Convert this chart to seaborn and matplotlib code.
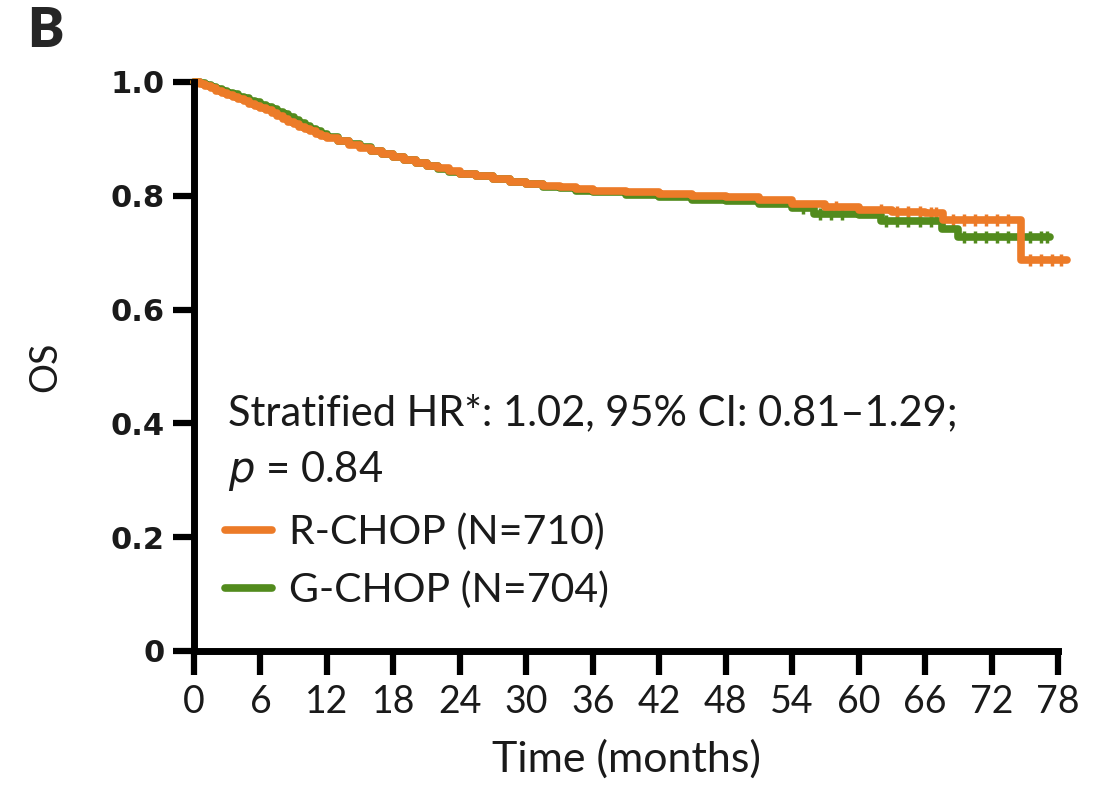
import numpy as np
import pandas as pd
import seaborn as sns
import matplotlib.pyplot as plt

# KM estimates (months, survival)
r_time = [0, 0.5, 1, 1.5, 2, 2.5, 3, 3.5, 4, 4.5, 5, 5.5, 6, 6.5, 7, 7.5, 8, 8.5, 9, 9.5,
          10, 10.5, 11, 11.5, 12, 13, 14, 15, 16, 17, 18, 19, 20, 21, 22, 23, 24, 25.5, 27,
          28.5, 30, 31.5, 33, 34.5, 36, 39, 42, 45, 48, 51, 54, 57, 60, 63, 66, 67.6, 74.7, 78.8]
r_surv = [1.0, 0.997, 0.993, 0.989, 0.985, 0.981, 0.977, 0.974, 0.97, 0.966, 0.962, 0.958,
          0.954, 0.95, 0.945, 0.94, 0.935, 0.93, 0.926, 0.921, 0.917, 0.913, 0.909, 0.905,
          0.902, 0.896, 0.89, 0.884, 0.879, 0.874, 0.869, 0.863, 0.858, 0.853, 0.848, 0.843,
          0.839, 0.835, 0.83, 0.825, 0.821, 0.818, 0.815, 0.812, 0.809, 0.806, 0.803, 0.8,
          0.797, 0.792, 0.786, 0.78, 0.775, 0.771, 0.769, 0.757, 0.687, 0.687]

g_time = [0, 0.5, 1, 1.5, 2, 2.5, 3, 3.5, 4, 4.5, 5, 5.5, 6, 6.5, 7, 7.5, 8, 8.5, 9, 9.5,
          10, 10.5, 11, 11.5, 12, 13, 14, 15, 16, 17, 18, 19, 20, 21, 22, 23, 24, 25.5, 27,
          28.5, 30, 31.5, 33, 34.5, 36, 39, 42, 45, 48, 51, 54, 56, 60, 62, 67.5, 69, 77.3]
g_surv = [1.0, 0.998, 0.995, 0.992, 0.988, 0.985, 0.981, 0.978, 0.974, 0.971, 0.967, 0.964,
          0.96, 0.956, 0.952, 0.948, 0.943, 0.938, 0.933, 0.928, 0.923, 0.918, 0.913, 0.908,
          0.904, 0.897, 0.891, 0.885, 0.879, 0.873, 0.868, 0.862, 0.857, 0.852, 0.847, 0.842,
          0.838, 0.834, 0.829, 0.824, 0.82, 0.816, 0.813, 0.809, 0.806, 0.801, 0.797, 0.793,
          0.79, 0.786, 0.779, 0.768, 0.766, 0.755, 0.741, 0.728, 0.728]

# censoring ticks (late follow-up)
r_cens = [58, 60, 62, 63.5, 64.5, 65.5, 66.5, 67, 68.5, 69.5, 70.5, 71.5, 72.5, 73.5,
          75.5, 76.5, 77.5, 78.3]
g_cens = [55, 56.5, 57.5, 58.5, 62.5, 63.5, 64.5, 65.5, 66.5, 69.5, 70.5, 71.5, 72.5,
          73.5, 74.5, 75.5, 76.5, 77]

arms = ['R-CHOP (N=710)', 'G-CHOP (N=704)']
colors = ['#EC7B28', '#528B1D']


def step_at(times, surv, t):
    idx = np.searchsorted(times, t, side='right') - 1
    return np.asarray(surv)[idx]


df = pd.concat([
    pd.DataFrame({'time': r_time, 'surv': r_surv, 'arm': arms[0]}),
    pd.DataFrame({'time': g_time, 'surv': g_surv, 'arm': arms[1]}),
])
cens = pd.concat([
    pd.DataFrame({'time': r_cens, 'surv': step_at(r_time, r_surv, r_cens), 'arm': arms[0]}),
    pd.DataFrame({'time': g_cens, 'surv': step_at(g_time, g_surv, g_cens), 'arm': arms[1]}),
])

sns.set_style('ticks')
plt.rcParams['font.family'] = ['Lato', 'DejaVu Sans']

fig = plt.figure(figsize=(10.99, 7.86), dpi=100)
ax = fig.add_axes([0.1765, 0.1718, 0.7862, 0.7239])

# draw G first so R sits on top
pal = dict(zip(arms, colors))
for arm in [arms[1], arms[0]]:
    sub = df[df['arm'] == arm]
    sns.lineplot(data=sub, x='time', y='surv', color=pal[arm], lw=5.5, ax=ax,
                 drawstyle='steps-post', estimator=None, clip_on=False, label=arm)
    csub = cens[cens['arm'] == arm]
    sns.scatterplot(data=csub, x='time', y='surv', color=pal[arm], marker='|', s=70,
                    linewidth=2.5, ax=ax, clip_on=False, legend=False)

ax.set_xlim(0, 78)
ax.set_ylim(0, 1.0)
ax.set_xticks(range(0, 79, 6))
ax.set_yticks([0, 0.2, 0.4, 0.6, 0.8, 1.0])
ax.set_yticklabels(['0', '0.2', '0.4', '0.6', '0.8', '1.0'],
                   family='DejaVu Sans', fontweight='bold', fontsize=22, color='#1a1a1a')
ax.tick_params(axis='x', labelsize=27, length=17, width=4.5, pad=7, color='black',
               labelcolor='#1a1a1a')
ax.tick_params(axis='y', length=15, width=4.5, pad=6, color='black')
sns.despine(ax=ax)
for side in ['left', 'bottom']:
    ax.spines[side].set_linewidth(5)
    ax.spines[side].set_color('black')

ax.set_xlabel('Time (months)', fontsize=31, labelpad=14, color='#1a1a1a')
ax.set_ylabel('OS', fontsize=27, labelpad=34, color='#1a1a1a')

ax.text(3.1, 0.397, 'Stratified HR*: 1.02, 95% CI: 0.81\u20131.29;', fontsize=30,
        va='baseline', ha='left', color='#1a1a1a')
ax.text(3.1, 0.297, '$p$ = 0.84', fontsize=30, va='baseline', ha='left', color='#1a1a1a')

h, l = ax.get_legend_handles_labels()
hd = dict(zip(l, h))
leg = ax.legend([hd[a] for a in arms], arms, loc='upper left', bbox_to_anchor=(0.036, 0.242),
                frameon=False, fontsize=29.5, handlelength=1.15, handletextpad=0.4,
                labelspacing=0.5, borderaxespad=0, borderpad=0)
for t in leg.get_texts():
    t.set_color('#1a1a1a')

fig.text(0.025, 0.94, 'B', fontsize=39, fontweight='heavy', family='Lato',
         va='baseline')

fig.savefig('out.png', dpi=100, facecolor='white')
